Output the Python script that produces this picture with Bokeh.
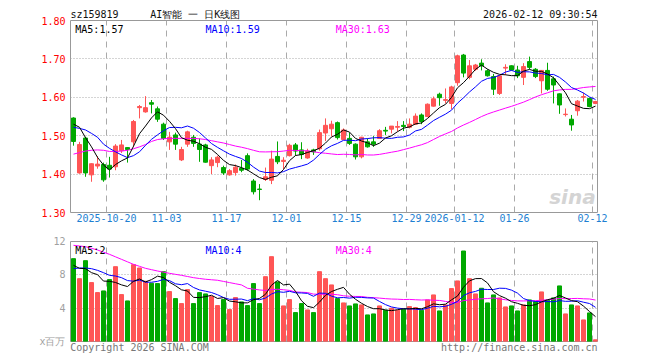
from bokeh.plotting import figure
from bokeh.models import (FixedTicker, Label, Range1d, ColumnDataSource,
                          PrintfTickFormatter, LinearAxis)
from bokeh.layouts import column
from bokeh.embed import file_html
from bokeh.resources import INLINE

# ---------------- data ----------------
opens = [1.546, 1.403, 1.494, 1.398, 1.421, 1.425, 1.423, 1.419, 1.461, 1.469,
         1.484, 1.573, 1.562, 1.586, 1.570, 1.530, 1.484, 1.502, 1.437, 1.478,
         1.496, 1.478, 1.476, 1.422, 1.430, 1.417, 1.398, 1.404, 1.415, 1.448,
         1.382, 1.361, 1.386, 1.384, 1.446, 1.433, 1.448, 1.476, 1.463, 1.442,
         1.463, 1.466, 1.507, 1.518, 1.534, 1.490, 1.493, 1.478, 1.445, 1.484,
         1.484, 1.493, 1.514, 1.517, 1.522, 1.527, 1.522, 1.530, 1.554, 1.550,
         1.577, 1.608, 1.592, 1.584, 1.638, 1.710, 1.652, 1.673, 1.689, 1.669,
         1.654, 1.610, 1.676, 1.682, 1.671, 1.652, 1.693, 1.673, 1.643, 1.670,
         1.648, 1.609, 1.555, 1.543, 1.565, 1.600, 1.597, 1.584]
highs = [1.548, 1.484, 1.497, 1.428, 1.447, 1.430, 1.445, 1.478, 1.489, 1.470,
         1.541, 1.580, 1.603, 1.593, 1.576, 1.534, 1.510, 1.508, 1.471, 1.513,
         1.502, 1.493, 1.479, 1.444, 1.448, 1.422, 1.413, 1.425, 1.437, 1.454,
         1.387, 1.374, 1.417, 1.461, 1.485, 1.444, 1.479, 1.481, 1.483, 1.466,
         1.466, 1.516, 1.545, 1.539, 1.537, 1.519, 1.508, 1.480, 1.497, 1.493,
         1.499, 1.517, 1.523, 1.525, 1.538, 1.538, 1.545, 1.558, 1.558, 1.584,
         1.602, 1.612, 1.623, 1.630, 1.711, 1.713, 1.697, 1.687, 1.699, 1.673,
         1.661, 1.658, 1.686, 1.683, 1.682, 1.689, 1.706, 1.676, 1.671, 1.690,
         1.654, 1.610, 1.571, 1.554, 1.593, 1.612, 1.599, 1.591]
lows = [1.474, 1.401, 1.393, 1.380, 1.414, 1.380, 1.391, 1.410, 1.455, 1.430,
        1.470, 1.545, 1.560, 1.558, 1.536, 1.489, 1.463, 1.463, 1.434, 1.471,
        1.471, 1.432, 1.430, 1.400, 1.418, 1.398, 1.396, 1.396, 1.405, 1.409,
        1.347, 1.332, 1.382, 1.374, 1.426, 1.413, 1.446, 1.448, 1.439, 1.440,
        1.450, 1.461, 1.486, 1.498, 1.490, 1.489, 1.476, 1.438, 1.441, 1.469,
        1.471, 1.492, 1.502, 1.506, 1.511, 1.512, 1.519, 1.528, 1.530, 1.548,
        1.576, 1.578, 1.584, 1.569, 1.630, 1.652, 1.647, 1.669, 1.670, 1.654,
        1.606, 1.606, 1.658, 1.670, 1.650, 1.632, 1.673, 1.650, 1.610, 1.617,
        1.584, 1.557, 1.550, 1.513, 1.552, 1.589, 1.574, 1.582]
closes = [1.485, 1.477, 1.403, 1.427, 1.426, 1.385, 1.413, 1.473, 1.476, 1.464,
          1.537, 1.576, 1.573, 1.582, 1.543, 1.493, 1.496, 1.478, 1.464, 1.510,
          1.480, 1.464, 1.431, 1.437, 1.444, 1.403, 1.409, 1.418, 1.410, 1.413,
          1.354, 1.360, 1.393, 1.439, 1.432, 1.436, 1.475, 1.460, 1.451, 1.460,
          1.458, 1.508, 1.527, 1.530, 1.495, 1.515, 1.480, 1.445, 1.496, 1.471,
          1.478, 1.513, 1.512, 1.525, 1.524, 1.524, 1.530, 1.551, 1.537, 1.582,
          1.596, 1.599, 1.594, 1.627, 1.708, 1.663, 1.682, 1.684, 1.682, 1.656,
          1.621, 1.656, 1.678, 1.671, 1.656, 1.680, 1.678, 1.654, 1.670, 1.621,
          1.632, 1.580, 1.556, 1.528, 1.590, 1.602, 1.576, 1.589]
volumes = [9.94, 7.54, 9.70, 7.07, 5.87, 6.07, 7.43, 8.98, 5.63, 4.87,
           9.22, 8.82, 7.23, 6.99, 6.95, 8.38, 5.99, 5.15, 4.55, 6.23,
           4.55, 5.87, 5.71, 5.39, 4.31, 5.03, 3.83, 5.27, 4.75, 4.31,
           6.95, 4.55, 7.78, 10.18, 7.15, 4.27, 5.03, 3.47, 4.55, 3.79,
           3.47, 8.38, 7.54, 6.79, 5.15, 4.63, 4.27, 4.51, 4.39, 3.19,
           3.31, 4.27, 3.75, 3.99, 3.75, 3.87, 4.19, 4.07, 3.75, 4.99,
           5.59, 3.67, 4.39, 6.35, 7.27, 10.86, 7.54, 5.71, 6.39, 4.63,
           5.59, 5.23, 4.15, 4.27, 3.67, 4.39, 4.99, 4.79, 5.95, 4.95,
           5.23, 6.67, 3.31, 4.39, 4.27, 2.59, 3.43, 0.20]

# moving-average values before a full window exists
ma5_head = [1.530, 1.522, 1.495, 1.471]
ma10_head = [1.522, 1.519, 1.515, 1.506, 1.496, 1.478, 1.467, 1.458, 1.450]
ma30_head = [1.452, 1.456, 1.460, 1.462, 1.463, 1.462, 1.459, 1.459, 1.460, 1.462,
             1.466, 1.471, 1.477, 1.485, 1.490, 1.492, 1.493, 1.493, 1.493, 1.493,
             1.493, 1.492, 1.490, 1.487, 1.484, 1.481, 1.477, 1.473, 1.470]
vma5_head = [9.14, 8.78, 8.74, 8.26]
vma10_head = [8.74, 8.82, 8.82, 8.74, 8.54, 8.26, 7.94, 7.86, 7.66]
vma30_head = [11.54, 11.46, 11.38, 11.18, 10.98, 10.72, 10.46, 10.16, 9.86, 9.56,
              9.26, 9.02, 8.78, 8.62, 8.46, 8.32, 8.18, 8.06, 7.94, 7.80,
              7.66, 7.56, 7.47, 7.41, 7.35, 7.21, 7.07, 6.93, 6.79]

tick_index = [6, 16, 26, 36, 46, 56, 64, 74, 87]
tick_labels = ["2025-10-20", "11-03", "11-17", "12-01", "12-15", "12-29",
               "2026-01-12", "01-26", "02-12"]
price_ticks = [1.30, 1.40, 1.50, 1.60, 1.70, 1.80]
vol_ticks = [0, 4, 8, 12]
vol_tick_labels = ["x百万", "4", "8", "12"]

header_texts = ["sz159819", "AI智能 一 日K线图", "2026-02-12 09:30:54"]
footer_texts = ["Copyright 2026 SINA.COM", "http://finance.sina.com.cn"]
legend_price = ["MA5:1.57", "MA10:1.59", "MA30:1.63"]
legend_vol = ["MA5:2", "MA10:4", "MA30:4"]

# ---------------- helpers ----------------
def moving(vals, n, head):
    out = list(head)
    for i in range(len(head), len(vals)):
        out.append(sum(vals[i - n + 1:i + 1]) / n)
    return out

RED = "#ff5555"
GREEN = "#00a800"
MONO = "DejaVu Sans Mono"
GRID = "#aaaaaa"
FRAME = "#999999"

n = len(closes)
xs = list(range(n))
colors = [RED if c >= o else GREEN for o, c in zip(opens, closes)]
src = ColumnDataSource(dict(
    x=xs, o=opens, h=highs, l=lows, c=closes, v=volumes, color=colors,
    top=[max(o, c) for o, c in zip(opens, closes)],
    bot=[min(o, c) for o, c in zip(opens, closes)],
    ma5=moving(closes, 5, ma5_head), ma10=moving(closes, 10, ma10_head),
    ma30=moving(closes, 30, ma30_head),
    vma5=moving(volumes, 5, vma5_head), vma10=moving(volumes, 10, vma10_head),
    vma30=moving(volumes, 30, vma30_head),
))

grid_x = [i - 0.5 for i in tick_index]
X0, X1 = -0.5, n - 0.667

def plain_axis(ax, color, size="10px", standoff=0):
    ax.axis_line_color = None
    ax.major_tick_line_color = None
    ax.minor_tick_line_color = None
    ax.major_tick_out = 0
    ax.major_label_standoff = standoff
    ax.major_label_text_color = color
    ax.major_label_text_font = MONO
    ax.major_label_text_font_size = size

def style(p):
    p.outline_line_color = FRAME
    p.outline_line_width = 1
    p.background_fill_color = "white"
    p.border_fill_color = "white"
    p.xgrid.ticker = FixedTicker(ticks=grid_x)
    p.xgrid.grid_line_color = GRID
    p.xgrid.grid_line_dash = "6 5"

# ---------------- price panel ----------------
p = figure(frame_width=527, frame_height=192,
           x_range=Range1d(X0, X1), y_range=Range1d(1.30, 1.80),
           output_backend="svg", toolbar_location=None,
           min_border_left=70, min_border_right=55, min_border_top=20,
           min_border_bottom=20)
style(p)
p.yaxis.ticker = FixedTicker(ticks=price_ticks)
p.yaxis.formatter = PrintfTickFormatter(format="%.2f")
plain_axis(p.yaxis[0], "#ff0000", standoff=5)
p.ygrid.ticker = FixedTicker(ticks=price_ticks[1:-1])
p.ygrid.grid_line_color = GRID
p.ygrid.grid_line_dash = "1 2"

p.xaxis.ticker = FixedTicker(ticks=grid_x)
p.xaxis.major_label_overrides = {t: s for t, s in zip(grid_x, tick_labels)}
plain_axis(p.xaxis[0], "#1e7fd2", standoff=1)

# header line: code / title / timestamp as labels of an axis above the frame
header_pos = [3.5, 20.3, 77.8]
top_axis = LinearAxis(ticker=FixedTicker(ticks=header_pos),
                      major_label_overrides={t: s for t, s in zip(header_pos, header_texts)})
plain_axis(top_axis, "#111111", standoff=1)
p.add_layout(top_axis, "above")

p.segment(x0="x", y0="l", x1="x", y1="h", line_color="color", line_width=1, source=src)
p.vbar(x="x", width=0.667, top="top", bottom="bot", fill_color="color",
       line_color="color", line_width=1, source=src)
p.line("x", "ma30", line_color="#ff00ff", line_width=1, source=src)
p.line("x", "ma10", line_color="#0000ff", line_width=1, source=src)
p.line("x", "ma5", line_color="black", line_width=1, source=src)

for xpos, txt, col in zip([0.3, 22, 43.7], legend_price, ["black", "#0000ff", "#ff00ff"]):
    p.add_layout(Label(x=xpos, y=1.80, text=txt, text_font=MONO, text_font_size="10px",
                       text_color=col, text_baseline="top", y_offset=-3))
p.add_layout(Label(x=X1 - 0.3, y=1.372, text="sina", text_font="DejaVu Sans",
                   text_font_size="20px", text_font_style="bold italic",
                   text_color="#d4d4d4", text_align="right", text_baseline="top"))

# ---------------- volume panel ----------------
q = figure(frame_width=527, frame_height=100,
           x_range=Range1d(X0, X1), y_range=Range1d(0, 12),
           output_backend="svg", toolbar_location=None,
           min_border_left=70, min_border_right=55, min_border_top=9,
           min_border_bottom=12)
style(q)
q.yaxis.ticker = FixedTicker(ticks=vol_ticks)
q.yaxis.major_label_overrides = {t: s for t, s in zip(vol_ticks, vol_tick_labels)}
plain_axis(q.yaxis[0], "#a0a0a0", standoff=5)
q.ygrid.ticker = FixedTicker(ticks=[4, 8])
q.ygrid.grid_line_color = GRID
q.ygrid.grid_line_dash = "1 2"

footer_pos = [11.0, 74.3]
q.xaxis.ticker = FixedTicker(ticks=footer_pos)
q.xaxis.major_label_overrides = {t: s for t, s in zip(footer_pos, footer_texts)}
plain_axis(q.xaxis[0], "#777777", standoff=0)

q.vbar(x="x", width=0.667, top="v", bottom=0, fill_color="color",
       line_color="color", line_width=1, source=src)
q.line("x", "vma30", line_color="#ff00ff", line_width=1, source=src)
q.line("x", "vma10", line_color="#0000ff", line_width=1, source=src)
q.line("x", "vma5", line_color="black", line_width=1, source=src)

for xpos, txt, col in zip([0.3, 22, 43.7], legend_vol, ["black", "#0000ff", "#ff00ff"]):
    q.add_layout(Label(x=xpos, y=12, text=txt, text_font=MONO, text_font_size="10px",
                       text_color=col, text_baseline="top", y_offset=-3))

layout = column(p, q, spacing=0)
open("out.html", "w").write(file_html(layout, INLINE))
